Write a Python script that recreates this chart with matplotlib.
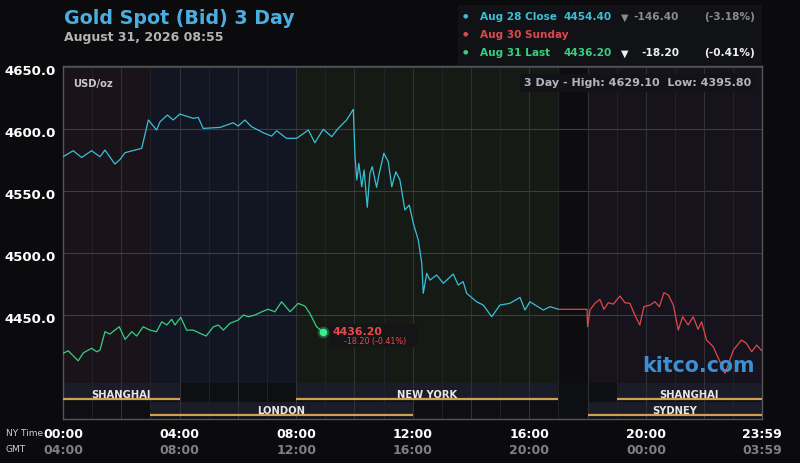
import matplotlib
matplotlib.use('Agg')
import matplotlib.pyplot as plt
from matplotlib.transforms import ScaledTranslation

# ---- data (NY time in hours, price in USD/oz) ----
aug28_hours = [0.0, 0.35, 0.64, 0.98, 1.27, 1.44, 1.78, 1.96, 2.13, 2.70, 2.93, 3.21, 3.33,
               3.58, 3.78, 4.01, 4.47, 4.64, 4.81, 5.39, 5.84, 6.01, 6.24, 6.47, 6.87, 7.16,
               7.33, 7.67, 8.02, 8.42, 8.64, 8.93, 9.22, 9.44, 9.73, 9.96, 10.02, 10.08, 10.15,
               10.25, 10.33, 10.44, 10.53, 10.61, 10.76, 10.85, 11.01, 11.16, 11.28, 11.42,
               11.56, 11.73, 11.88, 12.02, 12.19, 12.31, 12.36, 12.48, 12.59, 12.82, 13.05,
               13.39, 13.56, 13.73, 13.85, 14.19, 14.42, 14.71, 14.99, 15.33, 15.68, 15.85,
               16.02, 16.48, 16.71, 17.0]
aug28_prices = [4577.6, 4582.5, 4577.0, 4582.5, 4577.6, 4583.0, 4571.7, 4575.5, 4580.9, 4584.4,
                4607.3, 4599.2, 4605.9, 4611.3, 4607.3, 4612.1, 4608.6, 4609.4, 4600.5, 4601.3,
                4605.1, 4602.4, 4607.3, 4601.9, 4597.0, 4594.3, 4598.6, 4592.5, 4592.5, 4599.2,
                4588.9, 4599.8, 4593.8, 4600.5, 4607.3, 4615.9, 4577.6, 4558.8, 4572.3, 4553.4,
                4566.9, 4536.8, 4564.2, 4569.6, 4552.9, 4564.2, 4580.4, 4573.6, 4553.4, 4565.5,
                4558.8, 4534.6, 4538.6, 4523.8, 4510.3, 4491.5, 4467.3, 4483.4, 4478.0, 4482.1,
                4475.4, 4482.9, 4474.0, 4476.7, 4467.3, 4460.5, 4457.8, 4448.4, 4457.8, 4459.2,
                4464.0, 4453.8, 4460.5, 4453.8, 4456.5, 4454.4]

aug30_hours = [17.0, 17.98, 18.0, 18.08, 18.25, 18.42, 18.56, 18.71, 18.88, 19.11, 19.28, 19.45,
               19.62, 19.79, 19.93, 20.14, 20.31, 20.46, 20.62, 20.77, 20.94, 21.11, 21.26,
               21.45, 21.62, 21.79, 21.91, 22.08, 22.31, 22.54, 22.71, 22.82, 23.0, 23.28,
               23.45, 23.63, 23.80, 23.97]
aug30_prices = [4454.4, 4454.4, 4440.3, 4453.8, 4459.2, 4462.4, 4454.4, 4459.7, 4458.6, 4465.1,
                4459.7, 4459.2, 4449.8, 4441.7, 4456.5, 4457.8, 4460.5, 4456.5, 4467.8, 4465.9,
                4457.8, 4437.6, 4448.4, 4441.7, 4448.4, 4438.2, 4444.3, 4429.6, 4424.2, 4412.0,
                4402.7, 4409.4, 4421.5, 4429.6, 4426.9, 4420.1, 4425.5, 4421.0]

aug31_hours = [0.0, 0.18, 0.52, 0.70, 0.98, 1.16, 1.27, 1.44, 1.61, 1.78, 1.93, 2.13, 2.36,
               2.53, 2.75, 2.98, 3.21, 3.39, 3.56, 3.73, 3.84, 4.04, 4.24, 4.47, 4.70, 4.91,
               5.16, 5.33, 5.50, 5.73, 6.01, 6.19, 6.36, 6.59, 6.82, 7.04, 7.27, 7.50, 7.79,
               8.07, 8.30, 8.47, 8.70, 8.917]
aug31_prices = [4418.8, 4420.9, 4412.8, 4419.3, 4422.9, 4420.1, 4421.5, 4436.3, 4434.4, 4437.6,
                4440.3, 4430.1, 4436.3, 4432.8, 4440.3, 4437.6, 4436.3, 4444.3, 4441.7, 4446.3,
                4441.7, 4447.9, 4437.6, 4437.6, 4435.0, 4432.8, 4440.3, 4441.7, 4437.6, 4443.1,
                4445.7, 4449.8, 4448.4, 4449.8, 4452.4, 4454.4, 4452.4, 4460.5, 4452.4, 4459.2,
                4457.0, 4451.1, 4440.3, 4436.2]

price_ticks = [4450, 4500, 4550, 4600, 4650]
time_ticks = [0, 4, 8, 12, 16, 20, 23.983]
ny_labels = ['00:00', '04:00', '08:00', '12:00', '16:00', '20:00', '23:59']
gmt_labels = ['04:00', '08:00', '12:00', '16:00', '20:00', '00:00', '03:59']

# background tint zones (start, end, colour)
zones = [(0, 3, '#1a1319'), (3, 8, '#121622'), (8, 17, '#151a15'),
         (17, 18, '#0d0d10'), (18, 23.983, '#16131c')]
# market sessions: (name, start, end, row)
sessions = [('SHANGHAI', 0, 4, 0), ('NEW YORK', 8, 17, 0), ('SHANGHAI', 19, 23.983, 0),
            ('LONDON', 3, 12, 1), ('SYDNEY', 18, 23.983, 1)]

BG = '#0b0b0e'
CYAN = '#3bbfd6'
RED = '#e0474c'
GREEN = '#35d07f'
ORANGE = '#d1a052'

W, H = 800, 463
fig = plt.figure(figsize=(8, 4.63), dpi=100, facecolor=BG)
ax = fig.add_axes([63 / W, 1 - 419 / H, 699 / W, 353 / H])
ax.set_facecolor(BG)
ax.set_xlim(0, 23.983)
ax.set_ylim(4365.8, 4650.9)

for s, e, c in zones:
    ax.axvspan(s, e, color=c, lw=0, zorder=0)

# session band at the bottom
ax.axvspan(0, 23.983, ymin=0, ymax=0.102, color='#0e0f13', lw=0, zorder=1)
row_box = {0: (0.053, 0.102), 1: (0.008, 0.048)}
row_line = {0: 0.0558, 1: 0.0105}
row_text = {0: 0.0603, 1: 0.0142}
xt = ax.get_xaxis_transform()
for name, s, e, row in sessions:
    y0, y1 = row_box[row]
    ax.axvspan(s, e, ymin=y0, ymax=y1, color='#1a1d28', lw=0, zorder=1.2)
    ax.plot([s, e], [row_line[row]] * 2, transform=xt, color=ORANGE, lw=1.6,
            solid_capstyle='butt', zorder=3)
    ax.text((s + e) / 2, row_text[row], name, transform=xt, ha='center', va='baseline',
            fontsize=7.2, fontweight='bold', color='#e6e6e6', zorder=4)

# grid
for hr in range(1, 24):
    ax.axvline(hr, color='#303037' if hr % 2 == 0 else '#212228', lw=0.8, zorder=2)
for p in price_ticks:
    ax.axhline(p, color='#3c3c42', lw=0.8, zorder=2)

ax.plot(aug28_hours, aug28_prices, color=CYAN, lw=0.9, zorder=5)
ax.plot(aug30_hours, aug30_prices, color=RED, lw=0.9, zorder=5)
ax.plot(aug31_hours, aug31_prices, color=GREEN, lw=0.9, zorder=5)

# last price marker and tag
end_t, end_v = aug31_hours[-1], aug31_prices[-1]
ax.scatter([end_t], [end_v], s=70, color=GREEN, alpha=0.35, lw=0, zorder=6)
ax.scatter([end_t], [end_v], s=30, color='#3af08a', lw=0, zorder=7)
ax.add_patch(plt.Rectangle((end_t + 0.25, end_v - 12), 3.0, 18, color='#151518',
                           lw=0, zorder=5.5))
ax.text(end_t + 0.32, end_v - 0.3, f'{end_v:.2f}', color='#e84a4a', fontsize=7.8,
        fontweight='bold', va='center', zorder=7)
ax.text(end_t + 0.72, end_v - 8.2, '-18.20 (-0.41%)', color='#e84a4a', fontsize=5.8,
        va='center', zorder=7)

ax.text(0.34, 4634, 'USD/oz', color='#c8c8c8', fontsize=7.2, fontweight='bold',
        va='baseline', zorder=7)
ax.text(23.72, 4403.5, 'kitco.com', color='#3d8fd1', fontsize=14.8, fontweight='bold',
        ha='right', va='baseline', zorder=7)

# high / low box
ax.text(0.985, 0.952, '3 Day - High: 4629.10  Low: 4395.80', transform=ax.transAxes,
        ha='right', va='center', color='#b4b4bc', fontsize=8, fontweight='bold', zorder=8,
        bbox=dict(boxstyle='square,pad=0.35', fc='#131317', ec='none'))

# axes styling
for sp in ax.spines.values():
    sp.set_color('#55555c')
    sp.set_linewidth(1)
ax.set_xticks([])
ax.set_yticks(price_ticks)
ax.set_yticklabels([f'{p:.1f}' for p in price_ticks])
ax.tick_params(axis='y', length=0, pad=5, colors='white', labelsize=9.5)
for lbl in ax.get_yticklabels():
    lbl.set_fontweight('bold')
    lbl.set_transform(lbl.get_transform() + ScaledTranslation(0, -0.03, fig.dpi_scale_trans))

for t, ny, gmt in zip(time_ticks, ny_labels, gmt_labels):
    ax.text(t, -0.045, ny, transform=xt, ha='center', va='center', color='white',
            fontsize=9, fontweight='bold', clip_on=False)
    ax.text(t, -0.088, gmt, transform=xt, ha='center', va='center', color='#808084',
            fontsize=9, fontweight='bold', clip_on=False)
fig.text(6 / W, 1 - 433 / H, 'NY Time', color='#d0d0d0', fontsize=6.5, va='center')
fig.text(6 / W, 1 - 449 / H, 'GMT', color='#d0d0d0', fontsize=6.5, va='center')

# header
fig.text(64 / W, 1 - 24 / H, 'Gold Spot (Bid) 3 Day', color='#4aaee0', fontsize=13.7,
         fontweight='bold', va='baseline')
fig.text(64 / W, 1 - 41.5 / H, 'August 31, 2026 08:55', color='#b4b4b4', fontsize=9,
         fontweight='bold', va='baseline')

# legend block
fig.patches.append(plt.Rectangle((458 / W, 1 - 65 / H), 304 / W, 60 / H,
                                 transform=fig.transFigure, color='#111216', lw=0, zorder=0))
legend_rows = [
    (20.5, CYAN, 'Aug 28 Close', '4454.40', '-146.40', '(-3.18%)', '#8a8a90'),
    (38.5, RED, 'Aug 30 Sunday', None, None, None, None),
    (56.5, GREEN, 'Aug 31 Last', '4436.20', '-18.20', '(-0.41%)', '#f0f0f0'),
]
for yb, col, name, val, chg, pct, chg_col in legend_rows:
    yy = 1 - yb / H
    fig.text(463 / W, 1 - (yb - 4.5) / H, '●', color=col, fontsize=4.5, va='center')
    fig.text(480 / W, yy, name, color=col, fontsize=7.6, fontweight='bold', va='baseline')
    if val is None:
        continue
    fig.text(563 / W, yy, val, color=col, fontsize=7.6, fontweight='bold', va='baseline')
    fig.text(621 / W, yy, '▼', color=chg_col, fontsize=7, va='baseline')
    fig.text(679 / W, yy, chg, color=chg_col, fontsize=7.6, fontweight='bold',
             ha='right', va='baseline')
    fig.text(755 / W, yy, pct, color=chg_col, fontsize=7.6, fontweight='bold',
             ha='right', va='baseline')

fig.savefig('out.png', dpi=100, facecolor=BG)
